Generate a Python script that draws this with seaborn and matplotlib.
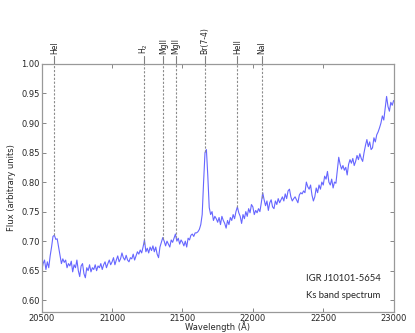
import numpy as np
import pandas as pd
import seaborn as sns
import matplotlib
matplotlib.use("Agg")
import matplotlib.pyplot as plt
import matplotlib.transforms as mtransforms

# ---- data ----
wave_start, wave_step = 20500, 10
flux = [
    0.650, 0.662, 0.668, 0.652, 0.665, 0.655, 0.675, 0.690, 0.708, 0.710,
    0.703, 0.704, 0.690, 0.675, 0.662, 0.670, 0.664, 0.668, 0.655, 0.662,
    0.658, 0.666, 0.648, 0.660, 0.655, 0.668, 0.650, 0.640, 0.658, 0.662,
    0.645, 0.638, 0.655, 0.650, 0.660, 0.648, 0.655, 0.652, 0.660, 0.650,
    0.658, 0.655, 0.662, 0.652, 0.660, 0.665, 0.655, 0.662, 0.668, 0.660,
    0.665, 0.672, 0.660, 0.668, 0.675, 0.665, 0.670, 0.680, 0.672, 0.668,
    0.676, 0.668, 0.665, 0.672, 0.670, 0.678, 0.668, 0.675, 0.682, 0.678,
    0.685, 0.680, 0.690, 0.702, 0.682, 0.688, 0.680, 0.690, 0.684, 0.692,
    0.682, 0.690, 0.678, 0.672, 0.690, 0.698, 0.706, 0.700, 0.692, 0.700,
    0.695, 0.690, 0.702, 0.698, 0.705, 0.712, 0.700, 0.705, 0.695, 0.702,
    0.698, 0.692, 0.700, 0.690, 0.705, 0.702, 0.710, 0.712, 0.708, 0.714,
    0.714, 0.716, 0.720, 0.728, 0.745, 0.800, 0.850, 0.855, 0.810, 0.757,
    0.745, 0.750, 0.735, 0.742, 0.738, 0.732, 0.740, 0.728, 0.742, 0.735,
    0.730, 0.722, 0.735, 0.728, 0.740, 0.735, 0.745, 0.738, 0.750, 0.758,
    0.748, 0.742, 0.730, 0.745, 0.738, 0.750, 0.742, 0.755, 0.748, 0.762,
    0.758, 0.745, 0.752, 0.748, 0.755, 0.750, 0.765, 0.782, 0.770, 0.760,
    0.768, 0.752, 0.765, 0.770, 0.758, 0.755, 0.768, 0.762, 0.772, 0.765,
    0.770, 0.775, 0.768, 0.780, 0.772, 0.785, 0.788, 0.775, 0.768, 0.772,
    0.775, 0.770, 0.765, 0.778, 0.782, 0.780, 0.785, 0.782, 0.800, 0.792,
    0.788, 0.795, 0.778, 0.768, 0.775, 0.790, 0.782, 0.795, 0.788, 0.800,
    0.795, 0.810, 0.805, 0.818, 0.800, 0.795, 0.805, 0.790, 0.800, 0.798,
    0.820, 0.842, 0.830, 0.822, 0.828, 0.820, 0.825, 0.812, 0.830, 0.838,
    0.832, 0.840, 0.828, 0.835, 0.845, 0.838, 0.848, 0.840, 0.835, 0.850,
    0.862, 0.872, 0.860, 0.868, 0.855, 0.858, 0.875, 0.868, 0.880, 0.885,
    0.892, 0.900, 0.912, 0.905, 0.925, 0.945, 0.928, 0.920, 0.935, 0.930,
    0.938,
]
wavelength = wave_start + wave_step * np.arange(len(flux))

line_names = ["HeI", r"H$_2$", "MgII", "MgII", "Br(7-4)", "HeII", "NaI"]
line_waves = [20590, 21225, 21365, 21455, 21661, 21890, 22065]

x_ticks = [20500, 21000, 21500, 22000, 22500, 23000]
y_ticks = [0.60, 0.65, 0.70, 0.75, 0.80, 0.85, 0.90, 0.95, 1.00]

# ---- plot ----
sns.set_style("ticks")
plt.rcParams["font.family"] = ["DejaVu Sans"]

fig = plt.figure(figsize=(4.15, 3.33), dpi=100)
ax = fig.add_axes([0.1005, 0.063, 0.848, 0.745])

df = pd.DataFrame({"wavelength": wavelength, "flux": flux})
sns.lineplot(data=df, x="wavelength", y="flux", ax=ax, color="#3333ff",
             alpha=0.75, linewidth=0.8)

ax.set_xlim(20500, 23000)
ax.set_ylim(0.58, 1.00)
ax.set_xticks(x_ticks)
ax.set_xticklabels([str(t) for t in x_ticks])
ax.set_yticks(y_ticks)
ax.set_yticklabels([f"{t:.2f}" for t in y_ticks])
ax.tick_params(direction="in", length=3, width=0.6, labelsize=6,
               top=True, right=True, color="0.45", pad=1.5)
for s in ax.spines.values():
    s.set_color("0.6")
    s.set_linewidth(0.9)

ax.set_xlabel("Wavelength (Å)", fontsize=6)
ax.xaxis.set_label_coords(0.5, -0.036)
ax.set_ylabel("Flux (arbitrary units)", fontsize=6, labelpad=4)

trans = mtransforms.blended_transform_factory(ax.transData, ax.transAxes)
for name, w in zip(line_names, line_waves):
    fpk = np.interp(w, wavelength, flux)
    ax.plot([w, w], [fpk, 1.0], color="0.55", linestyle=(0, (2, 1.5)),
            linewidth=0.8)
    ax.plot([w, w], [1.0, 1.03], transform=trans, color="0.5",
            linewidth=0.8, clip_on=False)
    ax.text(w, 1.04, name, transform=trans, rotation=90, ha="center",
            va="bottom", fontsize=5.5)

ax.text(0.75, 0.137, "IGR J10101-5654", transform=ax.transAxes,
        fontsize=6.8, family="Lato", ha="left", va="center")
ax.text(0.75, 0.065, "Ks band spectrum", transform=ax.transAxes,
        fontsize=6.8, family="Lato", ha="left", va="center")

fig.savefig("out.png", dpi=100)
